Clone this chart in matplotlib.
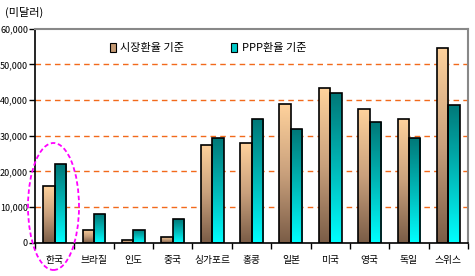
import matplotlib
matplotlib.use("Agg")
import matplotlib.pyplot as plt
import numpy as np
from matplotlib.colors import LinearSegmentedColormap
from matplotlib.patches import Ellipse, Patch
from matplotlib.ticker import FuncFormatter, FixedLocator

plt.rcParams['font.family'] = ['Noto Sans CJK KR', 'DejaVu Sans']

categories = ['한국', '브라질', '인도', '중국', '싱가포르', '홍콩', '일본', '미국', '영국', '독일', '스위스']
market = [15800, 3700, 800, 1700, 27500, 27900, 38900, 43300, 37500, 34700, 54700]
ppp = [22000, 8000, 3700, 6700, 29400, 34700, 31900, 41900, 33900, 29400, 38700]
series_labels = ['시장환율 기준', 'PPP환율 기준']
yticks = [0, 10000, 20000, 30000, 40000, 50000, 60000]

W, H = 475, 276
fig = plt.figure(figsize=(W / 100, H / 100), dpi=100)
ax = fig.add_axes([35 / W, 1 - 242.7 / H, (468 - 35) / W, (242.7 - 28.7) / H])

cm_market = LinearSegmentedColormap.from_list('m', ['#7A5C46', '#C9A07C', '#FFD29C'])
cm_ppp = LinearSegmentedColormap.from_list('p', ['#00FFFF', '#00B8B8', '#007878'])

x = np.arange(len(categories))
bw = 0.29
grad = np.linspace(0, 1, 256).reshape(-1, 1)

b1 = ax.bar(x - bw / 2, market, bw, facecolor='none', edgecolor='black', linewidth=1.2, zorder=3)
b2 = ax.bar(x + bw / 2, ppp, bw, facecolor='none', edgecolor='black', linewidth=1.2, zorder=3)

for bars, cmap in ((b1, cm_market), (b2, cm_ppp)):
    for r in bars:
        x0, y0 = r.get_x(), r.get_y()
        w, h = r.get_width(), r.get_height()
        im = ax.imshow(grad, extent=[x0, x0 + w, y0, y0 + h], origin='lower',
                       cmap=cmap, aspect='auto', zorder=2, interpolation='bilinear')
        im.set_clip_path(r)

ax.set_xlim(-0.5, len(categories) - 0.5)
ax.set_ylim(0, 60000)

for v in yticks[1:-1]:
    ax.axhline(v, color='#F26A1B', linestyle=(0, (4, 3)), linewidth=1.0, zorder=1)

ax.spines['top'].set_color('#888888')
ax.spines['right'].set_color('#888888')
ax.spines['top'].set_linewidth(1.5)
ax.spines['right'].set_linewidth(1.5)
ax.spines['left'].set_linewidth(1.2)
ax.spines['bottom'].set_linewidth(1.2)

ax.set_yticks(yticks)
ax.yaxis.set_major_formatter(FuncFormatter(lambda v, p: f'{int(v):,}'))
ax.tick_params(axis='y', direction='out', length=4, width=1, labelsize=6.5, pad=1)

ax.set_xticks(x)
ax.set_xticklabels(categories, fontsize=7)
ax.tick_params(axis='x', which='major', length=0, pad=9)
ax.xaxis.set_minor_locator(FixedLocator(np.arange(-0.5, len(categories), 1.0)))
ax.tick_params(axis='x', which='minor', direction='out', length=4, width=1)

fig.text(5 / W, 1 - 12 / H, '(미달러)', fontsize=8, va='center', ha='left')

handles = [Patch(facecolor='#C49A74', edgecolor='black', linewidth=0.8),
           Patch(facecolor='#00C8C8', edgecolor='black', linewidth=0.8)]
leg = ax.legend(handles, series_labels, ncol=2, frameon=False, fontsize=8,
                loc='center', bbox_to_anchor=((208 - 35) / (468 - 35), (242.7 - 48) / (242.7 - 28.7)),
                handlelength=0.55, handleheight=0.9, handletextpad=0.4, columnspacing=4.2)

ell = Ellipse(((53.5) / W, 1 - 206.5 / H), 51 / W, 127 / H, transform=fig.transFigure,
              fill=False, edgecolor='#FF00FF', linestyle=(0, (2.5, 1.5)), linewidth=1.3, zorder=10)
fig.patches.append(ell)

fig.savefig('out.png', dpi=100)
